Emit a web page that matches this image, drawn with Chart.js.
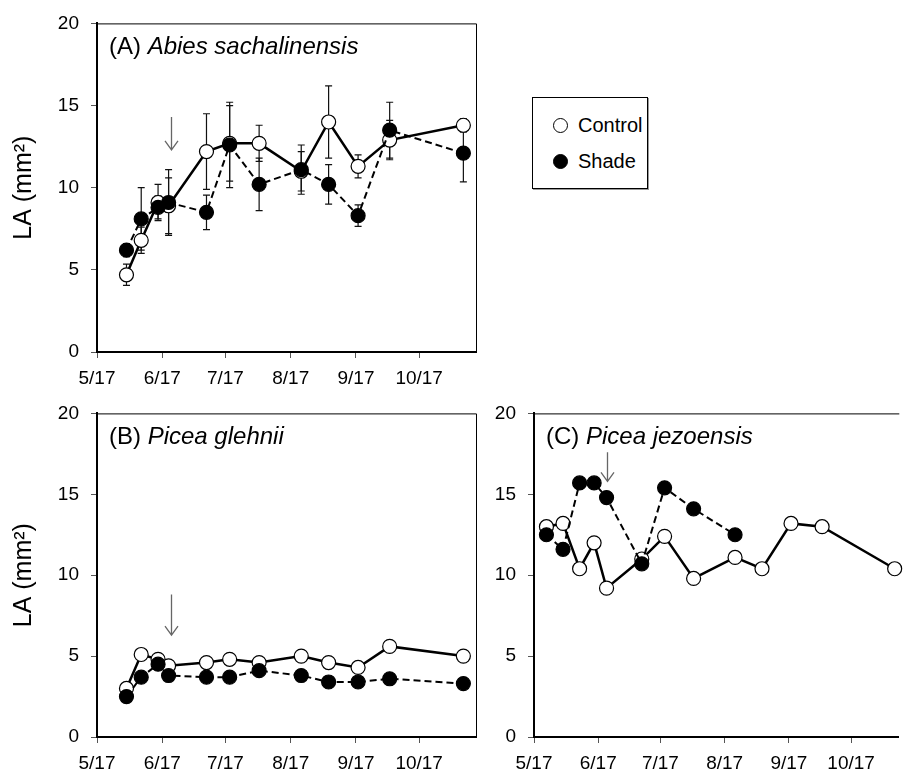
<!DOCTYPE html>
<html>
<head>
<meta charset="utf-8">
<script src="https://cdn.jsdelivr.net/npm/chart.js@4.4.1/dist/chart.umd.min.js"></script>
<style>
  html, body { margin: 0; padding: 0; background: #fff; overflow: hidden; }
  #page { position: relative; width: 907px; height: 773px; overflow: hidden; }
  canvas { position: absolute; }
  #legend {
    position: absolute; left: 532px; top: 97px; width: 114px; height: 90px;
    border: 1.5px solid #000; box-shadow: 1px 1px 0 #999; background: #fff;
    font: 20px "Liberation Sans", Arial, sans-serif; color: #000;
  }
  .lg-row { position: absolute; left: 20px; display: flex; align-items: center; height: 20px; }
  .lg-dot { width: 13px; height: 13px; border: 1.2px solid #000; border-radius: 50%; margin-right: 10px; }
</style>
</head>
<body>
<div id="page">
  <canvas id="panelA" width="490" height="390" style="left:0;top:0"></canvas>
  <canvas id="panelB" width="490" height="383" style="left:0;top:390px"></canvas>
  <canvas id="panelC" width="417" height="383" style="left:490px;top:390px"></canvas>
  <div id="legend">
    <div class="lg-row" style="top:17px"><span class="lg-dot" style="background:#fff"></span>Control</div>
    <div class="lg-row" style="top:53px"><span class="lg-dot" style="background:#000"></span>Shade</div>
  </div>
</div>
<script>
// x axis = days after 5/17
const TICK_DAYS = [0, 31, 61, 92, 123, 153];
const TICK_LABELS = ['5/17', '6/17', '7/17', '8/17', '9/17', '10/17'];
const X_MAX = 180;
const X_MAX_C = 176; // panel C is cut at the right edge of the figure
const Y_TICKS = [0, 5, 10, 15, 20];

// (A) Abies sachalinensis / (B) Picea glehnii share sampling days
const daysAB = [14, 21, 29, 34, 52, 63, 77, 97, 110, 124, 139, 174];
const ctrlA = [4.7, 6.8, 9.1, 8.9, 12.2, 12.7, 12.7, 11.0, 14.0, 11.3, 12.9, 13.8];
const ctrlAErr = [0.65, 0.8, 1.1, 1.7, 2.3, 2.3, 1.1, 1.2, 2.2, 0.7, 1.2, 0.4];
const shadeA = [6.2, 8.1, 8.8, 9.1, 8.5, 12.6, 10.2, 11.1, 10.2, 8.3, 13.5, 12.1];
const shadeAErr = [0.4, 1.9, 0.7, 2.0, 1.05, 2.6, 1.6, 1.5, 1.2, 0.65, 1.7, 1.75];

const ctrlB = [3.0, 5.1, 4.8, 4.4, 4.6, 4.8, 4.6, 5.0, 4.6, 4.3, 5.6, 5.0];
const shadeB = [2.5, 3.7, 4.5, 3.8, 3.7, 3.7, 4.1, 3.8, 3.4, 3.4, 3.6, 3.3];

// (C) Picea jezoensis
const daysCtrlC = [6, 14, 22, 29, 35, 52, 63, 77, 97, 110, 124, 139, 174];
const ctrlC = [13.0, 13.2, 10.4, 12.0, 9.2, 11.0, 12.4, 9.8, 11.1, 10.4, 13.2, 13.0, 10.4];
const daysShadeC = [6, 14, 22, 29, 35, 52, 63, 77, 97];
const shadeC = [12.5, 11.6, 15.7, 15.7, 14.8, 10.7, 15.4, 14.1, 12.5];

// arrow: start of shading treatment
const ARROW_DAY = 35;
const arrowA = [14.3, 12.3];
const arrowB = [8.8, 6.3];
const arrowC = [17.6, 15.8];

const FONT = '"Liberation Sans", Arial, sans-serif';
const Y_TITLE = 'LA (mm²)';

const pts = (xs, ys) => xs.map((x, i) => ({ x, y: ys[i] }));

const framePlugin = {
  id: 'frame',
  afterDatasetsDraw(chart, args, opts) {
    const { ctx, chartArea: a } = chart;
    ctx.save();
    ctx.strokeStyle = '#000';
    ctx.lineWidth = 1;
    ctx.beginPath();
    ctx.moveTo(a.left, a.top + 0.5);
    ctx.lineTo(a.right + 0.5, a.top + 0.5);
    if (!opts.openRight) ctx.lineTo(a.right + 0.5, a.bottom);
    ctx.stroke();
    ctx.restore();
  }
};

const errorBarPlugin = {
  id: 'errorBars',
  beforeDatasetsDraw(chart) {
    const { ctx, scales: { x, y } } = chart;
    ctx.save();
    ctx.strokeStyle = '#111';
    ctx.lineWidth = 1.2;
    chart.data.datasets.forEach(ds => {
      if (!ds.errors) return;
      ds.data.forEach((p, i) => {
        const px = x.getPixelForValue(p.x);
        const hi = y.getPixelForValue(p.y + ds.errors[i]);
        const lo = y.getPixelForValue(p.y - ds.errors[i]);
        ctx.beginPath();
        ctx.moveTo(px, hi); ctx.lineTo(px, lo);
        ctx.moveTo(px - 3.5, hi); ctx.lineTo(px + 3.5, hi);
        ctx.moveTo(px - 3.5, lo); ctx.lineTo(px + 3.5, lo);
        ctx.stroke();
      });
    });
    ctx.restore();
  }
};

const arrowPlugin = {
  id: 'arrow',
  afterDatasetsDraw(chart, args, opts) {
    if (!opts.range) return;
    const { ctx, scales: { x, y } } = chart;
    const px = Math.round(x.getPixelForValue(opts.day)) + 0.5;
    const top = y.getPixelForValue(opts.range[0]);
    const tip = y.getPixelForValue(opts.range[1]);
    ctx.save();
    ctx.strokeStyle = '#666';
    ctx.lineWidth = 1.3;
    ctx.beginPath();
    ctx.moveTo(px, top); ctx.lineTo(px, tip);
    ctx.moveTo(px - 6.5, tip - 9); ctx.lineTo(px, tip); ctx.lineTo(px + 6.5, tip - 9);
    ctx.stroke();
    ctx.restore();
  }
};

const panelTitlePlugin = {
  id: 'panelTitle',
  afterDraw(chart, args, opts) {
    const { ctx, chartArea: a } = chart;
    ctx.save();
    ctx.fillStyle = '#000';
    ctx.textBaseline = 'middle';
    const x0 = a.left + 12, y0 = a.top + 24;
    ctx.font = '24px ' + FONT;
    ctx.fillText(opts.prefix, x0, y0);
    const w = ctx.measureText(opts.prefix).width;
    ctx.font = 'italic 24px ' + FONT;
    ctx.fillText(opts.name, x0 + w, y0);
    ctx.restore();
  }
};

function xScale(h, max) {
  return {
    type: 'linear', min: 0, max,
    afterBuildTicks: s => { s.ticks = TICK_DAYS.map(v => ({ value: v })); },
    ticks: {
      callback: (v, i) => TICK_LABELS[i],
      font: { family: FONT, size: 19 }, color: '#000',
      padding: 9, maxRotation: 0, autoSkip: false
    },
    grid: { drawOnChartArea: false, tickLength: 6, color: '#555' },
    border: { color: '#000', width: 2 },
    afterFit: s => { s.height = h; }
  };
}

function yScale(w, withTitle) {
  return {
    min: 0, max: 20,
    afterBuildTicks: s => { s.ticks = Y_TICKS.map(v => ({ value: v })); },
    ticks: { font: { family: FONT, size: 19 }, color: '#000', padding: 12 },
    grid: { drawOnChartArea: false, tickLength: 6, color: '#555' },
    border: { color: '#000', width: 2 },
    title: {
      display: withTitle, text: Y_TITLE, color: '#000',
      font: { family: FONT, size: 25 }, padding: { top: 9, bottom: 0 }
    },
    afterFit: s => { s.width = w; }
  };
}

function ctrlSet(data, errors) {
  return {
    label: 'Control', data, errors,
    borderColor: '#000', borderWidth: 2.5,
    pointRadius: 7, pointBackgroundColor: '#fff', pointBorderColor: '#000', pointBorderWidth: 1.2
  };
}

function shadeSet(data, errors) {
  return {
    label: 'Shade', data, errors,
    borderColor: '#000', borderWidth: 2, borderDash: [7, 4],
    pointRadius: 7, pointBackgroundColor: '#000', pointBorderColor: '#000', pointBorderWidth: 1.2
  };
}

function makePanel(id, datasets, cfg) {
  return new Chart(document.getElementById(id), {
    type: 'line',
    data: { datasets },
    options: {
      responsive: false,
      animation: false,
      clip: false,
      layout: { padding: cfg.padding },
      scales: { x: xScale(cfg.xh, cfg.xmax), y: yScale(cfg.yw, cfg.yTitle) },
      plugins: {
        legend: { display: false },
        tooltip: { enabled: false },
        frame: { openRight: !!cfg.openRight },
        arrow: { day: ARROW_DAY, range: cfg.arrow },
        panelTitle: cfg.title
      }
    },
    plugins: [framePlugin, errorBarPlugin, arrowPlugin, panelTitlePlugin]
  });
}

makePanel('panelA', [shadeSet(pts(daysAB, shadeA), shadeAErr), ctrlSet(pts(daysAB, ctrlA), ctrlAErr)], {
  padding: { top: 17, right: 14, bottom: 0, left: 0 }, xh: 38, yw: 97, yTitle: true, xmax: X_MAX,
  arrow: arrowA, title: { prefix: '(A) ', name: 'Abies sachalinensis' }
});

makePanel('panelB', [shadeSet(pts(daysAB, shadeB)), ctrlSet(pts(daysAB, ctrlB))], {
  padding: { top: 13, right: 14, bottom: 0, left: 0 }, xh: 36, yw: 97, yTitle: true, xmax: X_MAX,
  arrow: arrowB, title: { prefix: '(B) ', name: 'Picea glehnii' }
});

// panel C: plot area runs to the window edge with no right border
makePanel('panelC', [shadeSet(pts(daysShadeC, shadeC)), ctrlSet(pts(daysCtrlC, ctrlC))], {
  padding: { top: 13, right: 0, bottom: 0, left: 0 }, xh: 36, yw: 44, yTitle: false, xmax: X_MAX_C,
  openRight: true, arrow: arrowC, title: { prefix: '(C) ', name: 'Picea jezoensis' }
});
</script>
</body>
</html>
